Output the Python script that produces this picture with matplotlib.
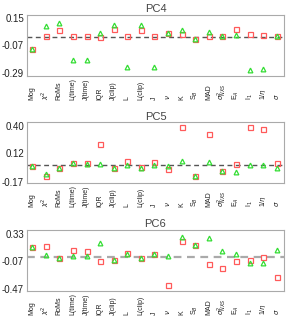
import matplotlib
matplotlib.use("Agg")
import matplotlib.pyplot as plt
from matplotlib.transforms import blended_transform_factory

plt.rcParams['font.family'] = ['Liberation Sans', 'DejaVu Sans']
plt.rcParams['mathtext.fontset'] = 'dejavusans'

names = ['Mog', r'$\chi^2$', 'RoMs', 'L(time)', 'J(time)', 'IQR', 'J(clip)', 'L',
         'L(clip)', 'J', r'$\nu$', 'K', r'S$_B$', 'MAD', r'$\sigma^2_{NXS}$',
         r'E$_A$', r'I$_1$', r'1/$\eta$', r'$\sigma$']

# PC4
pc4_sq = [-0.097, 0.002, 0.055, 0.002, 0.004, -0.006, 0.058, 0.004, 0.057, 0.004,
          0.031, 0.022, -0.022, 0.008, 0.008, 0.064, 0.018, 0.010, 0.002]
pc4_tri = [-0.097, 0.085, 0.112, -0.185, -0.185, 0.028, 0.090, -0.246, 0.094, -0.244,
           0.031, 0.050, -0.022, 0.034, 0.008, 0.016, -0.263, -0.257, 0.004]
# PC5
pc5_sq = [-0.005, -0.105, -0.030, 0.023, 0.027, 0.222, -0.026, 0.046, -0.012, 0.039,
          -0.039, 0.390, -0.105, 0.320, -0.057, 0.015, 0.394, 0.373, 0.029]
pc5_tri = [-0.005, -0.090, -0.030, 0.023, 0.012, 0.015, -0.029, 0.008, -0.029, 0.005,
           -0.005, 0.046, -0.105, 0.035, -0.057, -0.064, 0.005, 0.005, -0.023]
# PC6
pc6_sq = [0.135, 0.150, -0.015, 0.092, 0.077, -0.068, -0.042, 0.058, -0.015, 0.044,
          -0.420, 0.227, 0.175, -0.102, -0.160, -0.058, -0.044, -0.006, -0.300]
pc6_tri = [0.140, 0.029, -0.015, 0.012, 0.012, 0.204, -0.042, 0.044, -0.015, 0.044,
           0.012, 0.286, 0.175, 0.276, 0.077, 0.036, -0.087, -0.097, 0.102]

titles = ['PC4', 'PC5', 'PC6']
yticks = [[0.15, -0.07, -0.29], [0.40, 0.125, -0.165], [0.33, -0.07, -0.47]]
ytick_labels = [['0.15', '-0.07', '-0.29'], ['0.40', '0.12', '-0.17'],
                ['0.33', '-0.07', '-0.47']]
ylims = [(-0.314, 0.174), (-0.185, 0.44), (-0.50, 0.388)]
dash_colors = ['#555555', '#555555', '#aaaaaa']
dash_widths = [1.0, 1.0, 1.6]
squares = [pc4_sq, pc5_sq, pc6_sq]
triangles = [pc4_tri, pc5_tri, pc6_tri]

fig = plt.figure(figsize=(2.87, 3.23), dpi=100)
bottoms = [0.7647, 0.4319, 0.0991]
xs = list(range(len(names)))

for i in range(3):
    ax = fig.add_axes([0.093, bottoms[i], 0.8976, 0.1889])
    ax.axhline(0, color=dash_colors[i], lw=dash_widths[i], ls=(0, (3.5, 2.5)), zorder=1)
    ax.plot(xs, squares[i], ls='none', marker='s', ms=3.6, mfc='none',
            mec='#ff5a5a', mew=0.9, zorder=2)
    ax.plot(xs, triangles[i], ls='none', marker='^', ms=3.4, mfc='none',
            mec='#33dd33', mew=0.9, zorder=3)
    ax.set_xlim(-0.4, 18.55)
    ax.set_ylim(*ylims[i])
    ax.set_yticks(yticks[i], ytick_labels[i])
    ax.set_yticks([yticks[i][1]], minor=True)
    ax.set_xticks(xs, [''] * len(xs))
    ax.set_xticks([9], minor=True)
    ax.tick_params(which='major', length=0, labelsize=7, pad=2, colors='#222222')
    ax.tick_params(which='minor', length=4, direction='in', width=0.8,
                   top=True, bottom=True, left=True, right=True, color='#999999')
    for s in ax.spines.values():
        s.set_color('#aaaaaa')
        s.set_linewidth(0.8)
    ax.set_title(titles[i], fontsize=8, color='#444444', pad=2)
    tr = blended_transform_factory(ax.transData, ax.transAxes)
    for x, n in zip(xs, names):
        ax.text(x, -0.39, n, transform=tr, rotation=90, ha='center', va='bottom',
                fontsize=5, color='#222222')

fig.savefig('out.png', dpi=100)
